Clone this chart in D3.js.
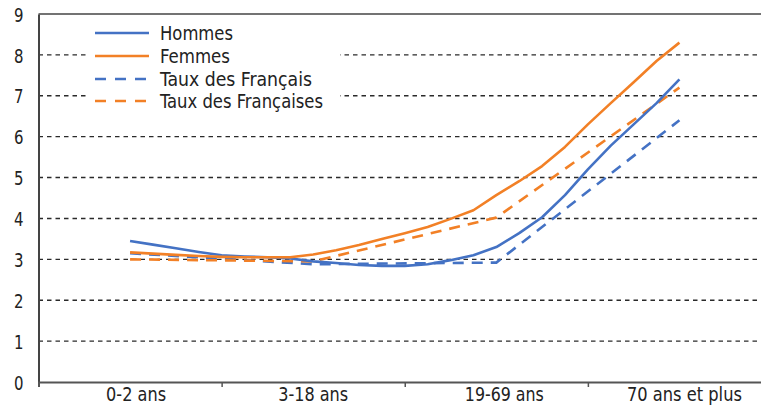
<!DOCTYPE html>
<html><head><meta charset="utf-8">
<script src="https://cdn.jsdelivr.net/npm/d3@7"></script>
<style>
body{margin:0;background:#fff;}
svg text{font-family:"Liberation Sans Narrow","Arial Narrow","DejaVu Sans Condensed","Roboto",sans-serif;fill:#222;}
</style></head><body>
<svg id="c" width="761" height="405"></svg>
<script>
// categories shown on the x axis (at indices 0, 8, 16, 24 of the fine scale)
const categories = ["0-2 ans", "3-18 ans", "19-69 ans", "70 ans et plus"];
const categoryIndex = [0, 8, 16, 24];
// fine-grained series (25 age points)
const hommes = [3.45,3.36,3.27,3.18,3.10,3.07,3.05,3.02,2.95,2.91,2.86,2.84,2.84,2.88,2.98,3.10,3.30,3.64,4.03,4.57,5.20,5.78,6.30,6.82,7.40];
const femmes = [3.17,3.14,3.11,3.08,3.06,3.05,3.05,3.05,3.12,3.22,3.35,3.50,3.64,3.79,3.99,4.20,4.57,4.91,5.28,5.75,6.30,6.82,7.33,7.85,8.30];
// national rates, one value per category
const tauxFrancais = [3.15, 2.88, 2.92, 6.40];
const tauxFrancaises = [3.00, 2.95, 4.02, 7.20];
const yTicks = [0,1,2,3,4,5,6,7,8,9];
const legendLabels = ["Hommes","Femmes","Taux des Français","Taux des Françaises"];

const blue = "#4472C4", orange = "#F28026";
const svg = d3.select("#c");
const x = d3.scaleLinear().domain([-4, 28]).range([38.5, 771]);
const y = d3.scaleLinear().domain([0, 9]).range([382, 14]);

// gridlines
svg.append("g").selectAll("line").data(yTicks.filter(d => d > 0 && d < 9)).join("line")
  .attr("x1", x(-4)).attr("x2", 761).attr("y1", d => y(d)).attr("y2", d => y(d))
  .attr("stroke", "#2a2a2a").attr("stroke-width", 1.4).attr("stroke-dasharray", "4.5,4");
// top border
svg.append("line").attr("x1", x(-4)).attr("x2", 761).attr("y1", y(9)).attr("y2", y(9))
  .attr("stroke", "#444").attr("stroke-width", 1.5);

// y axis
const yAxis = svg.append("g").attr("transform", `translate(${x(-4)},0)`)
  .call(d3.axisLeft(y).tickValues(yTicks).tickSize(0).tickPadding(15));
yAxis.select(".domain").attr("stroke", "#444").attr("stroke-width", 2);
yAxis.selectAll("text").attr("font-size", 20).attr("dy", "0.36em").attr("fill", "#222")
  .attr("textLength", 9.5).attr("lengthAdjust", "spacingAndGlyphs");

// x axis
const xAxis = svg.append("g").attr("transform", `translate(0,${y(0)})`)
  .call(d3.axisBottom(x).tickValues([4, 12, 20]).tickSize(5).tickFormat(""));
xAxis.select(".domain").attr("stroke", "#555").attr("stroke-width", 2);
xAxis.selectAll(".tick line").attr("stroke", "#555").attr("stroke-width", 1.5);
const catWidths = [60, 70, 79, 115];
const catShift = [6, 0, 8, 5];
svg.append("g").selectAll("text").data(categories).join("text")
  .attr("x", (d, i) => x(categoryIndex[i]) + catShift[i]).attr("y", 401)
  .attr("text-anchor", "middle").attr("font-size", 20)
  .attr("textLength", (d, i) => catWidths[i]).attr("lengthAdjust", "spacingAndGlyphs").text(d => d);

// legend background
svg.append("rect").attr("x", 86).attr("y", 18).attr("width", 254).attr("height", 96).attr("fill", "#fff");

const line = d3.line().x(d => x(d[0])).y(d => y(d[1]));
const fine = arr => arr.map((v, i) => [i, v]);
const coarse = arr => arr.map((v, i) => [categoryIndex[i], v]);
const series = [
  {data: fine(hommes), color: blue, dash: null},
  {data: fine(femmes), color: orange, dash: null},
  {data: coarse(tauxFrancais), color: blue, dash: "11,8"},
  {data: coarse(tauxFrancaises), color: orange, dash: "11,8"}
];
[2,3,0,1].forEach(k => {
  const s = series[k];
  svg.append("path").datum(s.data).attr("d", line).attr("fill", "none")
    .attr("stroke", s.color).attr("stroke-width", 2.6).attr("stroke-linejoin", "round")
    .attr("stroke-dasharray", s.dash);
});

// legend
const lg = svg.append("g");
const rowsY = [33, 56, 79, 101];
const legWidths = [73, 70, 152, 163];
legendLabels.forEach((t, i) => {
  const s = series[i];
  lg.append("line").attr("x1", 95).attr("x2", 149).attr("y1", rowsY[i]).attr("y2", rowsY[i])
    .attr("stroke", s.color).attr("stroke-width", 2.6).attr("stroke-dasharray", s.dash ? "11,9" : null);
  lg.append("text").attr("x", 160).attr("y", rowsY[i]).attr("dy", "0.36em")
    .attr("font-size", 20).attr("textLength", legWidths[i]).attr("lengthAdjust", "spacingAndGlyphs").text(t);
});
</script></body></html>
